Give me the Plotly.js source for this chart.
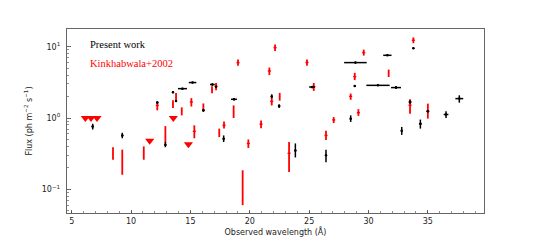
<!DOCTYPE html>
<html>
<head>
<meta charset="utf-8">
<script src="https://cdn.plot.ly/plotly-3.0.1.min.js"></script>
<style>html,body{margin:0;padding:0;background:#fff;}#chart{width:538px;height:240px;}</style>
</head>
<body>
<div id="chart"></div>
<script>
// Present work (black)
const pwX    = [6.77, 9.26, 12.21, 12.89, 13.53, 13.79, 14.33, 15.18, 16.09, 16.85, 17.16, 17.80, 18.67, 21.85, 22.47, 23.84, 25.25, 26.42, 28.90, 28.50, 28.84, 30.80, 31.59, 32.32, 32.80, 33.50, 33.78, 34.37, 35.00, 36.53, 37.65];
const pwXerr = [0.10, 0.10, 0.08, 0.08, 0.08, 0.08, 0.38, 0.32, 0.10, 0.20, 0.08, 0.08, 0.25, 0.08, 0.10, 0.08, 0.25, 0.08, 0.95, 0.08, 0.08, 0.98, 0.35, 0.42, 0.08, 0.12, 0.08, 0.12, 0.10, 0.20, 0.33];
const pwY    = [0.76, 0.57, 1.65, 0.42, 2.30, 1.73, 2.58, 3.14, 1.28, 2.95, 2.75, 0.51, 1.83, 2.00, 1.47, 0.35, 2.72, 0.30, 5.98, 0.98, 2.81, 2.87, 7.57, 2.67, 0.66, 1.68, 9.50, 0.83, 1.24, 1.12, 1.87];
const pwYlo  = [0.69, 0.52, 1.60, 0.39, 2.22, 1.68, 2.50, 3.05, 1.22, 2.85, 2.68, 0.46, 1.76, 1.90, 1.38, 0.28, 2.62, 0.24, 5.80, 0.88, 2.72, 2.80, 7.40, 2.55, 0.58, 1.58, 9.30, 0.71, 1.20, 1.00, 1.64];
const pwYhi  = [0.83, 0.62, 1.70, 0.46, 2.38, 1.78, 2.66, 3.23, 1.34, 3.05, 2.82, 0.57, 1.90, 2.15, 1.56, 0.44, 2.82, 0.36, 6.15, 1.09, 2.90, 2.95, 7.75, 2.80, 0.75, 1.78, 9.70, 0.95, 1.28, 1.24, 2.08];

// Kinkhabwala+2002 (red)
const kX    = [8.48, 9.26, 11.07, 12.21, 12.89, 13.53, 13.79, 14.27, 15.08, 15.33, 16.09, 16.82, 17.16, 17.43, 17.83, 18.64, 19.01, 19.40, 19.88, 20.95, 21.65, 21.85, 22.13, 22.52, 23.31, 24.82, 25.39, 26.42, 27.07, 28.50, 28.84, 29.15, 29.60, 31.70, 33.50, 33.78, 35.00];
const kXerr = [0.00, 0.00, 0.00, 0.13, 0.00, 0.00, 0.00, 0.00, 0.13, 0.13, 0.00, 0.00, 0.13, 0.00, 0.13, 0.00, 0.13, 0.00, 0.13, 0.13, 0.13, 0.13, 0.13, 0.00, 0.13, 0.13, 0.13, 0.13, 0.13, 0.13, 0.13, 0.13, 0.13, 0.00, 0.13, 0.13, 0.13];
const kY    = [0.32, 0.24, 0.32, 1.50, 0.59, 1.55, 1.95, 1.25, 1.68, 0.65, 1.40, 2.50, 2.78, 0.62, 0.79, 1.22, 5.98, 0.11, 0.44, 0.82, 4.57, 1.71, 9.70, 2.00, 0.32, 6.00, 2.76, 0.57, 0.94, 2.01, 3.80, 1.19, 8.26, 4.25, 1.51, 12.3, 1.24];
const kYlo  = [0.26, 0.16, 0.26, 1.28, 0.45, 1.38, 1.72, 1.09, 1.45, 0.52, 1.28, 2.22, 2.45, 0.54, 0.71, 1.00, 5.40, 0.06, 0.38, 0.72, 4.00, 1.50, 8.70, 1.75, 0.175, 5.40, 2.40, 0.49, 0.85, 1.80, 3.40, 1.07, 7.50, 3.76, 1.15, 11.2, 0.98];
const kYhi  = [0.39, 0.36, 0.40, 1.68, 0.77, 1.77, 2.24, 1.41, 1.90, 0.79, 1.60, 2.78, 3.10, 0.71, 0.89, 1.50, 6.60, 0.185, 0.50, 0.92, 5.10, 1.95, 10.7, 2.25, 0.46, 6.60, 3.10, 0.66, 1.03, 2.20, 4.30, 1.33, 9.10, 4.77, 1.83, 13.5, 1.59];

// Kinkhabwala+2002 upper limits
const ulX = [6.15, 6.63, 7.13, 11.57, 13.56, 14.83];
const ulY = [1.00, 1.00, 1.00, 0.48, 1.00, 0.43];

const xTicks = [5, 10, 15, 20, 25, 30, 35];
const yTicks = [0.1, 1, 10];
const yTickText = ['10<sup>−1</sup>', '10<sup>0</sup>', '10<sup>1</sup>'];

const diff = (a, b) => a.map((v, i) => v - b[i]);

const red = '#ff0000';
const traces = [
  {
    x: kX, y: kY, type: 'scatter', mode: 'markers', name: 'Kinkhabwala+2002',
    marker: {color: red, size: 1},
    error_y: {type: 'data', symmetric: false, array: diff(kYhi, kY), arrayminus: diff(kY, kYlo), color: red, thickness: 1.8, width: 0},
    error_x: {type: 'data', array: kXerr, color: red, thickness: 1.4, width: 0},
    showlegend: false
  },
  {
    x: ulX, y: ulY, type: 'scatter', mode: 'markers', name: 'upper limits',
    marker: {color: red, size: 8, symbol: 'triangle-down', line: {width: 0}},
    showlegend: false
  },
  {
    x: pwX, y: pwY, type: 'scatter', mode: 'markers', name: 'Present work',
    marker: {color: '#000', size: 2.5},
    error_y: {type: 'data', symmetric: false, array: diff(pwYhi, pwY), arrayminus: diff(pwY, pwYlo), color: '#000', thickness: 1.5, width: 0},
    error_x: {type: 'data', array: pwXerr, color: '#000', thickness: 1.5, width: 0},
    showlegend: false
  }
];

const minorY = [];
[0.01, 0.1, 1].forEach(d => { for (let k = 2; k <= 9; k++) minorY.push(k * d); });

const layout = {
  width: 538, height: 240,
  margin: {l: 67, r: 54, t: 29, b: 27},
  paper_bgcolor: '#fff', plot_bgcolor: '#fff',
  font: {family: 'DejaVu Sans', size: 8, color: '#222'},
  showlegend: false,
  xaxis: {
    range: [4.604, 39.73], tickmode: 'array', tickvals: xTicks,
    ticks: 'inside', ticklen: 3.5, tickwidth: 0.8, tickcolor: '#444',
    minor: {dtick: 1, ticks: 'inside', ticklen: 2, tickwidth: 0.6, tickcolor: '#444', showgrid: false},
    showgrid: false, zeroline: false, showline: true, mirror: true, linecolor: '#666', linewidth: 1.2,
    tickfont: {family: 'DejaVu Sans', size: 8, color: '#222'},
    title: {text: 'Observed wavelength (Å)', font: {family: 'DejaVu Sans', size: 8, color: '#222'}, standoff: 4}
  },
  yaxis: {
    type: 'log', range: [-1.332, 1.248], tickmode: 'array', tickvals: yTicks, ticktext: yTickText,
    ticks: 'inside', ticklen: 3.5, tickwidth: 0.8, tickcolor: '#444',
    minor: {tickmode: 'array', tickvals: minorY, ticks: 'inside', ticklen: 2, tickwidth: 0.6, tickcolor: '#444', showgrid: false},
    showgrid: false, zeroline: false, showline: true, mirror: true, linecolor: '#666', linewidth: 1.2,
    ticklabelstandoff: 4,
    tickfont: {family: 'DejaVu Sans', size: 8, color: '#222'},
    title: {text: 'Flux (ph m<sup>−2</sup> s<sup>−1</sup>)', font: {family: 'DejaVu Sans', size: 8, color: '#222'}, standoff: 8}
  },
  annotations: [
    {xref: 'paper', yref: 'paper', x: 0.05, y: 0.915, xanchor: 'left', yanchor: 'middle', showarrow: false,
     text: 'Present work', font: {family: 'Liberation Serif', size: 10.5, color: '#000'}},
    {xref: 'paper', yref: 'paper', x: 0.05, y: 0.81, xanchor: 'left', yanchor: 'middle', showarrow: false,
     text: 'Kinkhabwala+2002', font: {family: 'Liberation Serif', size: 10.5, color: red}}
  ]
};

Plotly.newPlot('chart', traces, layout, {displayModeBar: false, staticPlot: true});
</script>
</body>
</html>
